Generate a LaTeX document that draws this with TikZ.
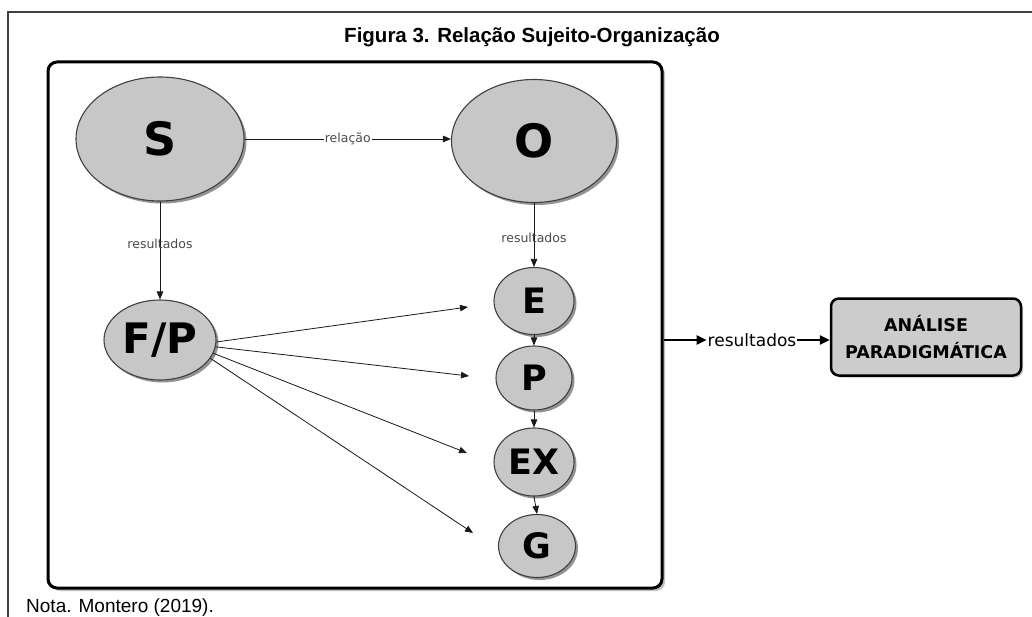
\documentclass[tikz,border=0pt]{standalone}
\usepackage{fontspec}
\setmainfont{Liberation Sans}
\newfontfamily\dv{DejaVu Sans}
\usetikzlibrary{arrows.meta,shadows,shapes.geometric}
\begin{document}
\begin{tikzpicture}[x=1pt,y=-1pt,
  ell/.style={ellipse, draw=black!75, line width=1.1pt, fill=black!22, inner sep=0pt,
    drop shadow={shadow xshift=2.5pt, shadow yshift=-2.5pt, fill=black!60, opacity=0.7}},
  bigletter/.style={font=\dv\bfseries\fontsize{46}{46}\selectfont},
  midletter/.style={font=\dv\bfseries\fontsize{42}{42}\selectfont},
  smallletter/.style={font=\dv\bfseries\fontsize{35}{35}\selectfont},
  lbl/.style={font=\dv\fontsize{12.5}{14}\selectfont, text=black!70, inner sep=1pt},
  arr/.style={-{Triangle[length=8pt,width=6.5pt]}, line width=0.8pt, draw=black!90},
  bigarr/.style={-{Triangle[length=10pt,width=9pt]}, line width=2.5pt},
]
\useasboundingbox (0,0) rectangle (1032,617);
\fill[white] (0,0) rectangle (1032,617);
% page frame
\draw[black!75, line width=1.2pt] (8,617) -- (8,12) -- (1032,12);
% title
\node[font=\bfseries\fontsize{20.5}{22}\selectfont, anchor=base, inner sep=0pt] (title) at (532,43) {Figura 3. Relação Sujeito-Organização};
% main frame
\node[draw, line width=3pt, rounded corners=9pt, minimum width=614pt, minimum height=526pt,
  drop shadow={shadow xshift=3pt, shadow yshift=-3pt, fill=black!40, opacity=0.6}, fill=white] (frame) at (355,325) {};
% ellipses
\node[ell, bigletter, minimum width=168pt, minimum height=124pt] (S) at (160,139) {S};
\node[ell, bigletter, minimum width=165pt, minimum height=123pt] (O) at (534,141) {O};
\node[ell, midletter, minimum width=112pt, minimum height=80pt] (FP) at (160,340) {F/P};
\node[ell, smallletter, minimum width=80pt, minimum height=67pt] (E) at (534,301) {E};
\node[ell, smallletter, minimum width=76pt, minimum height=64pt] (P) at (534,378) {P};
\node[ell, smallletter, minimum width=80pt, minimum height=68pt] (EX) at (534,462) {EX};
\node[ell, smallletter, minimum width=77pt, minimum height=63pt] (G) at (537,546) {G};
% connectors
\draw[arr] (S.east |- 0,139) -- node[lbl, fill=white] (rel) {relação} (O.west |- 0,139);
\draw[arr] (S.south) -- node[lbl, pos=0.43] (res1) {resultados} (FP.north);
\draw[arr] (O.south) -- node[lbl, pos=0.54] (res2) {resultados} (E.north);
\draw[arr] (E.south) -- (P.north);
\draw[arr] (P.south) -- (EX.north);
\draw[arr] (EX.south) -- (G.north);
\coordinate (t1) at (468,307);
\coordinate (t2) at (469,376);
\coordinate (t3) at (467,453);
\coordinate (t4) at (473,533);
\draw[arr] (FP.-2) -- (t1);
\draw[arr] (FP.-7) -- (t2);
\draw[arr] (FP.-14) -- (t3);
\draw[arr] (FP.-20) -- (t4);
% right side
\node[font=\dv\fontsize{17}{20}\selectfont, inner sep=1pt] (res3) at (752,340) {resultados};
\node[draw, line width=2.5pt, rounded corners=8pt, fill=black!20, minimum width=190pt, minimum height=77pt,
  align=center, font=\dv\bfseries\fontsize{17.5}{27}\selectfont,
  drop shadow={shadow xshift=2pt, shadow yshift=-2pt, fill=black!40, opacity=0.6}] (box) at (926,337) {ANÁLISE\\PARADIGMÁTICA};
\draw[bigarr] (frame.east |- res3) -- (res3.west);
\draw[bigarr] (res3.east) -- (box.west |- res3);
% note
\node[anchor=base west, font=\fontsize{19}{22}\selectfont, inner sep=0pt] (nota) at (26,612) {Nota. Montero (2019).};
\end{tikzpicture}
\end{document}
